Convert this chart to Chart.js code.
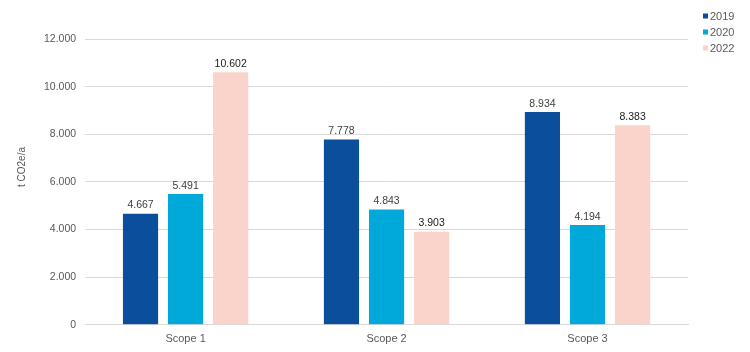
<!DOCTYPE html>
<html>
<head>
<meta charset="utf-8">
<script src="https://cdn.jsdelivr.net/npm/chart.js@4"></script>
<style>
  html, body { margin: 0; padding: 0; background: #fff; }
  #wrap { width: 750px; height: 352px; }
</style>
</head>
<body>
<div id="wrap"><canvas id="grafico" width="750" height="352"></canvas></div>
<script>
const categorias = ["Scope 1", "Scope 2", "Scope 3"];
const anos = ["2019", "2020", "2022"];
const valores2019 = [4667, 7778, 8934];
const valores2020 = [5491, 4843, 4194];
const valores2022 = [10602, 3903, 8383];
const ticksY = [0, 2000, 4000, 6000, 8000, 10000, 12000];
const tituloY = "t CO2e/a";

const cores = ["#0b4f9c", "#00a9d9", "#fad4ca"];
const coresRotulo = ["#404040", "#404040", "#1a1a1a"];
const fonte = "'Liberation Sans', Arial, sans-serif";

function formatar(n){
  return String(n).replace(/\B(?=(\d{3})+(?!\d))/g, ".");
}

// rótulos em cima das barras, título do eixo e legenda no canto
const rotulos = {
  id: "rotulos",
  afterDatasetsDraw(chart){
    const ctx = chart.ctx;
    ctx.save();
    ctx.font = "10.5px " + fonte;
    ctx.textAlign = "center";
    ctx.textBaseline = "bottom";
    chart.data.datasets.forEach((ds, i) => {
      const meta = chart.getDatasetMeta(i);
      meta.data.forEach((bar, j) => {
        ctx.fillStyle = coresRotulo[i];
        ctx.fillText(formatar(ds.data[j]), bar.x, bar.y - 3);
      });
    });
    ctx.restore();
  },
  afterDraw(chart){
    const ctx = chart.ctx;
    ctx.save();
    // título do eixo y
    ctx.translate(22, 167);
    ctx.rotate(-Math.PI / 2);
    ctx.font = "10px " + fonte;
    ctx.fillStyle = "#595959";
    ctx.textAlign = "center";
    ctx.textBaseline = "middle";
    ctx.fillText(tituloY, 0, 0);
    ctx.restore();

    ctx.save();
    ctx.font = "11px " + fonte;
    ctx.textAlign = "left";
    ctx.textBaseline = "middle";
    chart.data.datasets.forEach((ds, i) => {
      const y = 16 + i * 16;
      ctx.fillStyle = ds.backgroundColor;
      ctx.fillRect(703, y - 2.5, 5, 5);
      ctx.fillStyle = "#595959";
      ctx.fillText(ds.label, 710, y + 0.5);
    });
    ctx.restore();
  }
};

new Chart(document.getElementById("grafico"), {
  type: "bar",
  data: {
    labels: categorias,
    datasets: [
      {label: anos[0], data: valores2019, backgroundColor: cores[0]},
      {label: anos[1], data: valores2020, backgroundColor: cores[1]},
      {label: anos[2], data: valores2022, backgroundColor: cores[2]}
    ]
  },
  options: {
    responsive: false,
    animation: false,
    layout: {padding: {top: 39, left: 35, right: 62, bottom: 6}},
    categoryPercentage: 0.673,
    barPercentage: 0.78,
    plugins: {
      tooltip: {enabled: false},
      legend: {display: false}
    },
    scales: {
      x: {
        grid: {display: false},
        border: {color: "#d9d9d9"},
        ticks: {color: "#595959", font: {family: fonte, size: 11}, padding: 0}
      },
      y: {
        min: ticksY[0],
        max: ticksY[ticksY.length - 1],
        afterBuildTicks(axis){ axis.ticks = ticksY.map(v => ({value: v})); },
        grid: {color: "#d9d9d9", drawTicks: false},
        border: {display: false},
        ticks: {
          color: "#595959",
          padding: 9,
          font: {family: fonte, size: 10.5},
          callback: v => formatar(v)
        }
      }
    }
  },
  plugins: [rotulos]
});
</script>
</body>
</html>
